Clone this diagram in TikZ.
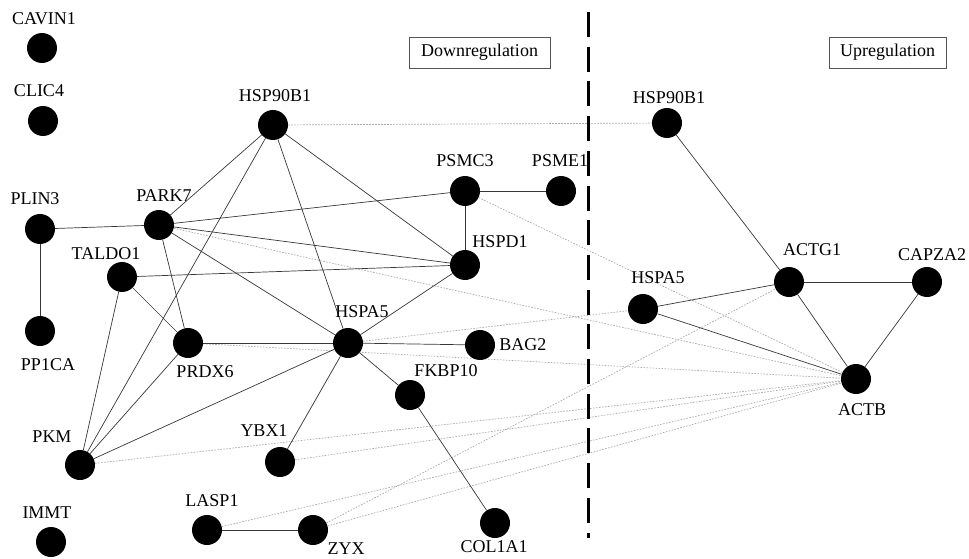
\documentclass[tikz,border=0pt]{standalone}
\usepackage{fontspec}
\setmainfont{Liberation Serif}
\usepackage{xcolor}
\usepackage{tikz}
\usetikzlibrary{positioning, backgrounds}
\definecolor{edgeline}{RGB}{55, 55, 55}
\definecolor{crossline}{RGB}{170, 170, 170}
\definecolor{boxborder}{RGB}{85, 85, 85}
\tikzset{
  font=\fontsize{18}{20}\selectfont,
  genenode/.style={circle, fill=black, minimum size=30pt, inner sep=0pt},
  genelabel/.style={inner sep=0pt, text=black},
  titlebox/.style={
    rectangle, draw=boxborder, line width=0.8pt,
    minimum height=31pt, inner sep=0pt
  },
  linkline/.style={draw=edgeline, line width=0.7pt},
  crosslink/.style={draw=crossline, line width=0.7pt, dash pattern=on 1.6pt off 1.4pt},
  splitline/.style={draw=black, line width=3pt, dash pattern=on 25pt off 9.7pt}
}

\begin{document}
\begin{tikzpicture}[x=1pt, y=-1pt]
  \useasboundingbox (0,0) rectangle (969,559);

  \node[titlebox, minimum width=141pt] (downbox) at (479.5,52.5) {Downregulation};
  \node[titlebox, minimum width=117pt] (upbox) at (887.5,52.5) {Upregulation};

  \coordinate (divtop) at (588,12);
  \coordinate (divbot) at (588,538);
  \draw[splitline] (divtop) -- (divbot);

  \node[genenode] (cavin1) at (42,48) {};
  \node[genenode] (clic4) at (43,121) {};
  \node[genenode] (hsp90l) at (273,125) {};
  \node[genenode] (plin3) at (40,229) {};
  \node[genenode] (park7) at (159,225) {};
  \node[genenode] (taldo1) at (122,277) {};
  \node[genenode] (pp1ca) at (40,331) {};
  \node[genenode] (prdx6) at (188,343) {};
  \node[genenode] (psmc3) at (465,191) {};
  \node[genenode] (psme1) at (561,191) {};
  \node[genenode] (hspd1) at (465,265) {};
  \node[genenode] (hspa5l) at (348,343) {};
  \node[genenode] (bag2) at (480,345) {};
  \node[genenode] (fkbp10) at (410,395) {};
  \node[genenode] (ybx1) at (280,462) {};
  \node[genenode] (pkm) at (80,465) {};
  \node[genenode] (immt) at (51,542) {};
  \node[genenode] (lasp1) at (207,530) {};
  \node[genenode] (zyx) at (313,530) {};
  \node[genenode] (col1a1) at (495,523) {};

  \node[genenode] (hsp90r) at (667,123) {};
  \node[genenode] (hspa5r) at (643,309) {};
  \node[genenode] (actg1) at (789,282) {};
  \node[genenode] (capza2) at (927,282) {};
  \node[genenode] (actb) at (856,379) {};

  \node[genelabel, above=8pt of cavin1, xshift=2pt] (cavin1lbl) {CAVIN1};
  \node[genelabel, above=9pt of clic4, xshift=-4pt] (clic4lbl) {CLIC4};
  \node[genelabel, above=8pt of hsp90l, xshift=2pt] (hsp90llbl) {HSP90B1};
  \node[genelabel, above=9pt of plin3, xshift=-5pt] (plin3lbl) {PLIN3};
  \node[genelabel, above=8pt of park7, xshift=5pt] (park7lbl) {PARK7};
  \node[genelabel, above=2pt of taldo1, xshift=-16pt] (taldo1lbl) {TALDO1};
  \node[genelabel, below=12pt of pp1ca, xshift=8pt] (pp1calbl) {PP1CA};
  \node[genelabel, below=7pt of prdx6, xshift=17pt] (prdx6lbl) {PRDX6};
  \node[genelabel, above=9pt of psmc3] (psmc3lbl) {PSMC3};
  \node[genelabel, above=9pt of psme1, xshift=-1pt] (psme1lbl) {PSME1};
  \node[genelabel, above=2pt of hspd1, xshift=35pt] (hspd1lbl) {HSPD1};
  \node[genelabel, above=10pt of hspa5l, xshift=14pt] (hspa5llbl) {HSPA5};
  \node[genelabel, right=4pt of bag2] (bag2lbl) {BAG2};
  \node[genelabel, above=3pt of fkbp10, xshift=36pt] (fkbp10lbl) {FKBP10};
  \node[genelabel, above=10pt of ybx1, xshift=-16pt] (ybx1lbl) {YBX1};
  \node[genelabel, above=7pt of pkm, xshift=-28pt] (pkmlbl) {PKM};
  \node[genelabel, above=8pt of immt, xshift=-4pt] (immtlbl) {IMMT};
  \node[genelabel, above=8pt of lasp1, xshift=5pt] (lasp1lbl) {LASP1};
  \node[genelabel, below=-3pt of zyx, xshift=33pt] (zyxlbl) {ZYX};
  \node[genelabel, below=2pt of col1a1, xshift=-1pt] (col1a1lbl) {COL1A1};

  \node[genelabel, above=4pt of hsp90r, xshift=2pt] (hsp90rlbl) {HSP90B1};
  \node[genelabel, above=10pt of hspa5r, xshift=15pt] (hspa5rlbl) {HSPA5};
  \node[genelabel, above=11pt of actg1, xshift=23pt] (actg1lbl) {ACTG1};
  \node[genelabel, above=6pt of capza2, xshift=5pt] (capza2lbl) {CAPZA2};
  \node[genelabel, below=9pt of actb, xshift=6pt] (actblbl) {ACTB};

  \begin{scope}[on background layer]
    \draw[crosslink] (hsp90l) -- (hsp90r);
    \draw[crosslink] (park7) -- (actb);
    \draw[crosslink] (psmc3) -- (actb);
    \draw[crosslink] (prdx6) -- (actb);
    \draw[crosslink] (hspa5l) -- (hspa5r);
    \draw[crosslink] (pkm) -- (actb);
    \draw[crosslink] (ybx1) -- (actb);
    \draw[crosslink] (lasp1) -- (actb);
    \draw[crosslink] (zyx) -- (actb);
    \draw[crosslink] (zyx) -- (actg1);

    \draw[linkline] (plin3) -- (park7);
    \draw[linkline] (plin3) -- (pp1ca);
    \draw[linkline] (park7) -- (hsp90l);
    \draw[linkline] (park7) -- (psmc3);
    \draw[linkline] (park7) -- (hspd1);
    \draw[linkline] (park7) -- (prdx6);
    \draw[linkline] (park7) -- (hspa5l);
    \draw[linkline] (taldo1) -- (hspd1);
    \draw[linkline] (taldo1) -- (prdx6);
    \draw[linkline] (taldo1) -- (pkm);
    \draw[linkline] (hsp90l) -- (pkm);
    \draw[linkline] (hsp90l) -- (hspa5l);
    \draw[linkline] (hsp90l) -- (hspd1);
    \draw[linkline] (pkm) -- (prdx6);
    \draw[linkline] (pkm) -- (hspa5l);
    \draw[linkline] (prdx6) -- (hspa5l);
    \draw[linkline] (hspa5l) -- (hspd1);
    \draw[linkline] (hspa5l) -- (bag2);
    \draw[linkline] (hspa5l) -- (fkbp10);
    \draw[linkline] (hspa5l) -- (ybx1);
    \draw[linkline] (fkbp10) -- (col1a1);
    \draw[linkline] (psmc3) -- (psme1);
    \draw[linkline] (psmc3) -- (hspd1);
    \draw[linkline] (lasp1) -- (zyx);

    \draw[linkline] (hsp90r) -- (actg1);
    \draw[linkline] (hspa5r) -- (actg1);
    \draw[linkline] (hspa5r) -- (actb);
    \draw[linkline] (actg1) -- (capza2);
    \draw[linkline] (actg1) -- (actb);
    \draw[linkline] (capza2) -- (actb);
  \end{scope}
\end{tikzpicture}
\end{document}
